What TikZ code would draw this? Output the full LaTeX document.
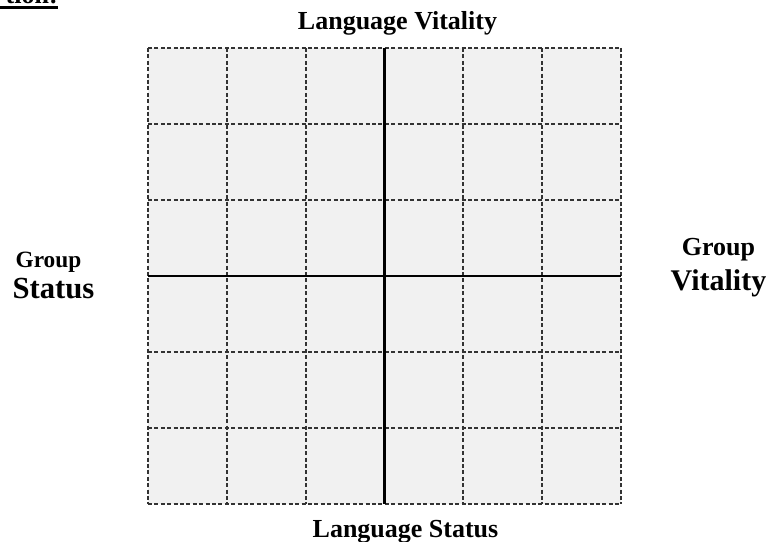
\documentclass[tikz,border=0pt]{standalone}
\usepackage{fontspec}
\setmainfont{Liberation Serif}
\usetikzlibrary{positioning}

\begin{document}
\begin{tikzpicture}[x=0.75pt, y=-0.75pt,
  cellline/.style={black!80, line width=1.4pt, dash pattern=on 3pt off 1.8pt},
  axis/.style={black, line width=2.2pt},
  lbl/.style={inner sep=0pt, anchor=base, font=\bfseries\fontsize{19.5}{22}\selectfont}]
\useasboundingbox (0,0) rectangle (771,542);
% cut-off heading in the corner
\node[lbl, anchor=base east] (head) at (58,4) {tion:};
\draw[line width=2pt] (0,7.5) -- (58,7.5);
% shaded square with the 6x6 dashed cells
\fill[gray!11] (148,48) rectangle (621,504);
\foreach \i in {0,...,6} {
  \draw[cellline] ({148+\i*78.83},48) -- ({148+\i*78.83},504);
  \draw[cellline] (148,{48+\i*76}) -- (621,{48+\i*76});
}
% the two axes
\draw[axis] (384.5,48) -- (384.5,504);
\draw[axis] (148,276) -- (621,276);
% axis labels
\node[lbl] (langvit) at (397.5,30) {Language Vitality};
\node[lbl] (langstat) at (405.5,537) {Language Status};
\node[lbl, font=\bfseries\fontsize{17.5}{20}\selectfont] (grpstat1) at (48.5,267) {Group};
\node[lbl, font=\bfseries\fontsize{23}{26}\selectfont] (grpstat2) at (53.5,298) {Status};
\node[lbl] (grpvit1) at (718.5,255) {Group};
\node[lbl, font=\bfseries\fontsize{22.5}{26}\selectfont] (grpvit2) at (718.5,290) {Vitality};
\end{tikzpicture}
\end{document}
